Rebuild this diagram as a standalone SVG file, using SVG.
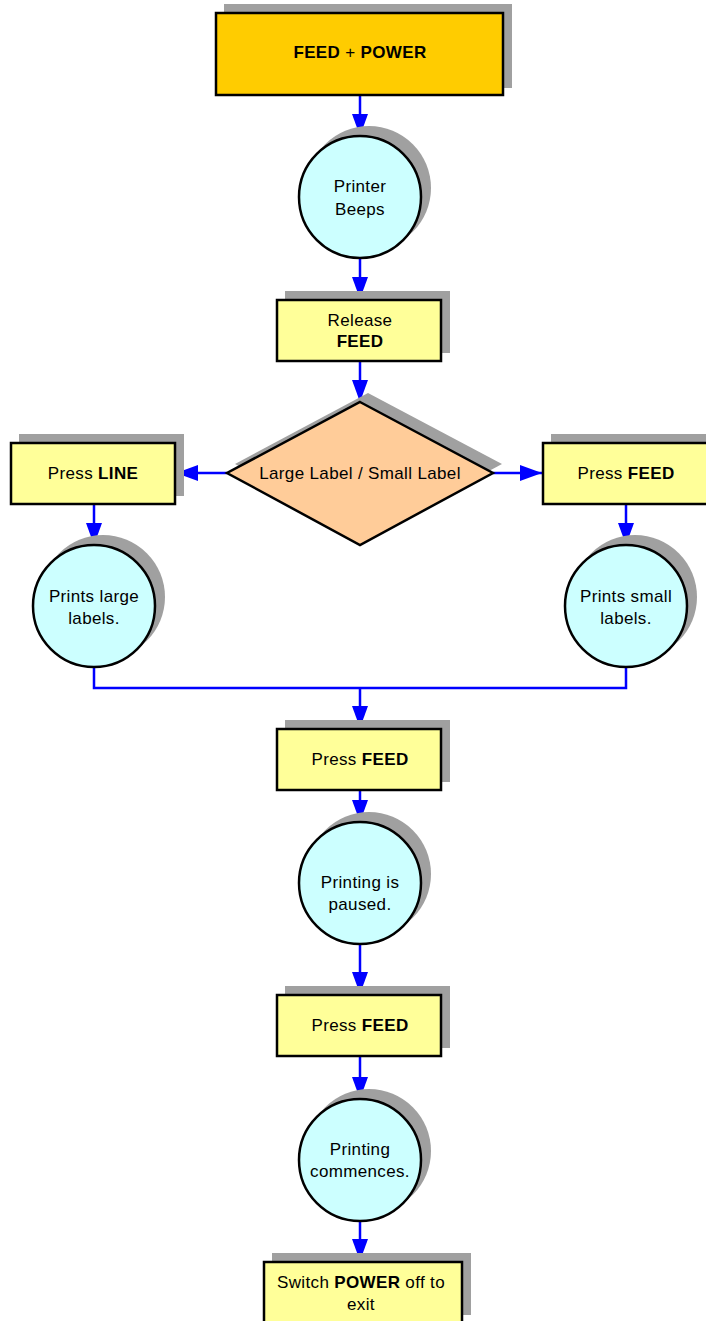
<svg xmlns="http://www.w3.org/2000/svg" width="706" height="1321" viewBox="0 0 706 1321">
<defs>
<marker id="ah" viewBox="0 0 22 16" refX="22" refY="8" markerWidth="22" markerHeight="16" markerUnits="userSpaceOnUse" orient="auto">
<path d="M0,0 L22,8 L0,16 Z" fill="#0000FF"/>
</marker>
<style>
.sh{fill:#A0A0A0}
.box{fill:#FFFF99;stroke:#000;stroke-width:2.5}
.start{fill:#FFCC00;stroke:#000;stroke-width:2.5}
.circ{fill:#CCFFFF;stroke:#000;stroke-width:2.5}
.dia{fill:#FFCC99;stroke:#000;stroke-width:2.5}
.t{font-family:"Liberation Sans",Arial,sans-serif;font-size:17px;letter-spacing:0.35px;fill:#000;text-anchor:middle}
.b{font-weight:bold}
.c{fill:none;stroke:#0000FF;stroke-width:2.5}
</style>
</defs>
<rect width="706" height="1321" fill="#fff"/>
<g id="connectors">
<line class="c" x1="360" y1="95" x2="360" y2="136" marker-end="url(#ah)"/>
<line class="c" x1="360" y1="258" x2="360" y2="299" marker-end="url(#ah)"/>
<line class="c" x1="360" y1="361" x2="360" y2="402" marker-end="url(#ah)"/>
<line class="c" x1="227" y1="473" x2="176" y2="473" marker-end="url(#ah)"/>
<line class="c" x1="493" y1="473" x2="542" y2="473" marker-end="url(#ah)"/>
<line class="c" x1="94" y1="504" x2="94" y2="545" marker-end="url(#ah)"/>
<line class="c" x1="626" y1="504" x2="626" y2="545" marker-end="url(#ah)"/>
<polyline class="c" points="94,667 94,688 626,688 626,667"/>
<line class="c" x1="360" y1="688" x2="360" y2="728" marker-end="url(#ah)"/>
<line class="c" x1="360" y1="790" x2="360" y2="822" marker-end="url(#ah)"/>
<line class="c" x1="360" y1="944" x2="360" y2="994" marker-end="url(#ah)"/>
<line class="c" x1="360" y1="1056" x2="360" y2="1099" marker-end="url(#ah)"/>
<line class="c" x1="360" y1="1221" x2="360" y2="1261" marker-end="url(#ah)"/>
</g>
<g id="n1">
<rect class="sh" x="224" y="4" width="288" height="84"/>
<rect class="start" x="216" y="13" width="287" height="82"/>
<text class="t b" x="360" y="58">FEED<tspan font-weight="normal"> + </tspan>POWER</text>
</g>
<g id="n2">
<circle class="sh" cx="369" cy="188" r="62"/>
<circle class="circ" cx="360" cy="197" r="61"/>
<text class="t" x="360" y="192">Printer</text>
<text class="t" x="360" y="215">Beeps</text>
</g>
<g id="n3">
<rect class="sh" x="285" y="291" width="165" height="62"/>
<rect class="box" x="277" y="300" width="164" height="61"/>
<text class="t" x="360" y="326">Release</text>
<text class="t b" x="360" y="347">FEED</text>
</g>
<g id="n4">
<polygon class="sh" points="368,393 502,464 368,536 235,464"/>
<polygon class="dia" points="360,402 493,473 360,545 227,473"/>
<text class="t" x="360" y="479">Large Label / Small Label</text>
</g>
<g id="n5">
<rect class="sh" x="19" y="434" width="165" height="62"/>
<rect class="box" x="11" y="443" width="164" height="61"/>
<text class="t" x="93" y="479">Press <tspan class="b">LINE</tspan></text>
</g>
<g id="n6">
<rect class="sh" x="551" y="434" width="165" height="62"/>
<rect class="box" x="543" y="443" width="168" height="61"/>
<text class="t" x="626" y="479">Press <tspan class="b">FEED</tspan></text>
</g>
<g id="n7">
<circle class="sh" cx="103" cy="597" r="62"/>
<circle class="circ" cx="94" cy="606" r="61"/>
<text class="t" x="94" y="602">Prints large</text>
<text class="t" x="94" y="624">labels.</text>
</g>
<g id="n8">
<circle class="sh" cx="635" cy="597" r="62"/>
<circle class="circ" cx="626" cy="606" r="61"/>
<text class="t" x="626" y="602">Prints small</text>
<text class="t" x="626" y="624">labels.</text>
</g>
<g id="n9">
<rect class="sh" x="285" y="720" width="165" height="62"/>
<rect class="box" x="277" y="729" width="164" height="61"/>
<text class="t" x="360" y="765">Press <tspan class="b">FEED</tspan></text>
</g>
<g id="n10">
<circle class="sh" cx="369" cy="874" r="62"/>
<circle class="circ" cx="360" cy="883" r="61"/>
<text class="t" x="360" y="888">Printing is</text>
<text class="t" x="360" y="910">paused.</text>
</g>
<g id="n11">
<rect class="sh" x="285" y="986" width="165" height="62"/>
<rect class="box" x="277" y="995" width="164" height="61"/>
<text class="t" x="360" y="1031">Press <tspan class="b">FEED</tspan></text>
</g>
<g id="n12">
<circle class="sh" cx="369" cy="1151" r="62"/>
<circle class="circ" cx="360" cy="1160" r="61"/>
<text class="t" x="360" y="1155">Printing</text>
<text class="t" x="360" y="1177">commences.</text>
</g>
<g id="n13">
<rect class="sh" x="272" y="1253" width="199" height="62"/>
<rect class="box" x="264" y="1262" width="198" height="70"/>
<text class="t" x="361" y="1288">Switch <tspan class="b">POWER</tspan> off to</text>
<text class="t" x="361" y="1310">exit</text>
</g>
</svg>
